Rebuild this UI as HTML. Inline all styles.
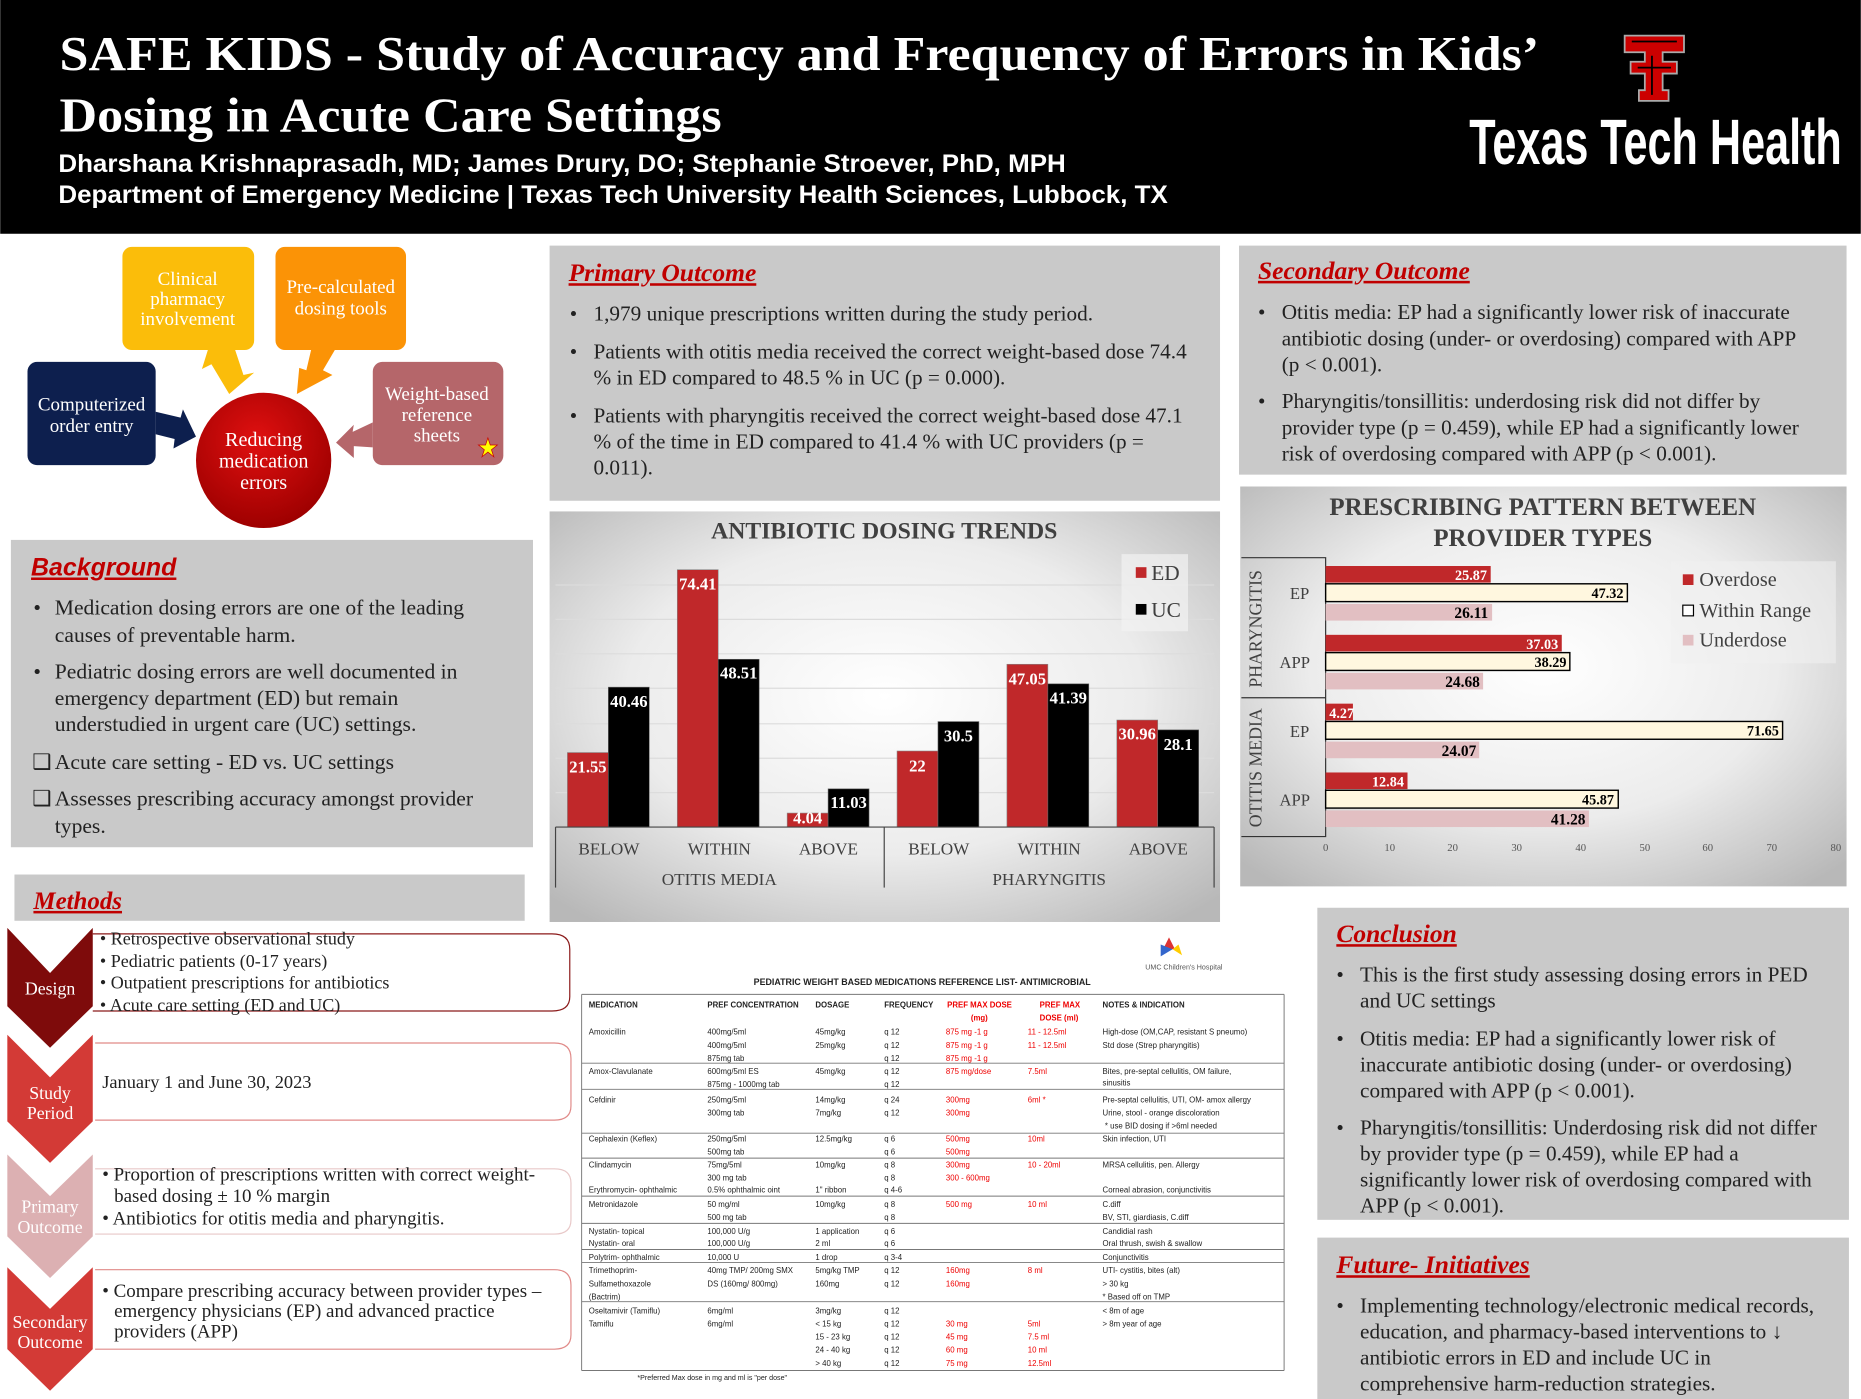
<!DOCTYPE html>
<html><head><meta charset="utf-8"><style>
html,body{margin:0;padding:0;background:#fff;}
svg{display:block;}
.s{font-family:"Liberation Serif",serif;}
.a{font-family:"Liberation Sans",sans-serif;}
</style></head><body>
<svg width="1861" height="1399" viewBox="0 0 1568 1179" xmlns="http://www.w3.org/2000/svg">
<defs>
<radialGradient id="g1" cx="50%" cy="45%" r="70%"><stop offset="0" stop-color="#ffffff"/><stop offset="0.55" stop-color="#ececec"/><stop offset="1" stop-color="#b8b8b8"/></radialGradient>
<radialGradient id="cir" cx="45%" cy="35%" r="65%"><stop offset="0" stop-color="#e01010"/><stop offset="1" stop-color="#9e0000"/></radialGradient>
</defs>
<rect width="1568" height="1179" fill="#fff"/>
<!-- header -->
<rect x="0" y="0" width="1568" height="197" fill="#000"/>
<text class="s" x="50" y="59" font-size="41" font-weight="bold" fill="#fff" textLength="1247" lengthAdjust="spacingAndGlyphs">SAFE KIDS - Study of Accuracy and Frequency of Errors in Kids’</text>
<text class="s" x="50" y="111" font-size="41" font-weight="bold" fill="#fff" textLength="558" lengthAdjust="spacingAndGlyphs">Dosing in Acute Care Settings</text>
<text class="a" x="49" y="145" font-size="21" font-weight="bold" fill="#fff" textLength="849" lengthAdjust="spacingAndGlyphs">Dharshana Krishnaprasadh, MD; James Drury, DO; Stephanie Stroever, PhD, MPH</text>
<text class="a" x="49" y="171" font-size="21" font-weight="bold" fill="#fff" textLength="935" lengthAdjust="spacingAndGlyphs">Department of Emergency Medicine | Texas Tech University Health Sciences, Lubbock, TX</text>
<!-- TT logo -->
<g>
<path d="M1369,30 H1419 V44 H1401 V52 H1413 V62 H1401 V76 H1406 V85 H1381 V76 H1386 V62 H1374 V52 H1386 V44 H1369 Z" fill="#c00" stroke="#aaa" stroke-width="1.5"/>
<path d="M1375,35 H1413 M1392,47 V80 M1380,57 H1408" stroke="#000" stroke-width="1.5" fill="none"/>
</g>
<text x="1238" y="138" font-family="'Liberation Sans Narrow','Liberation Sans',sans-serif" font-size="54" font-weight="bold" fill="#fff" textLength="314" lengthAdjust="spacingAndGlyphs">Texas Tech Health</text>

<!-- diagram -->
<polygon points="175,295 198,295 205,316 214,314 193,332 178,307 170,311" fill="#fbbd0a"/>
<polygon points="262,295 282,295 272,312 280,316 250,332 252,310 258,312" fill="#fb9306"/>
<polygon points="131,347 152,352 154,345 165,368 146,378 147,370 131,366" fill="#0d1f4e"/>
<polygon points="314,356 314,377 298,376 298,386 283,373 298,358 297,364" fill="#b5666a"/>
<rect x="103" y="208" width="111" height="87" rx="8" fill="#fbbd0a"/>
<rect x="232" y="208" width="110" height="87" rx="8" fill="#fb9306"/>
<rect x="23" y="305" width="108" height="87" rx="8" fill="#0d1f4e"/>
<rect x="314" y="305" width="110" height="87" rx="8" fill="#b5666a"/>
<circle cx="222" cy="388" r="57" fill="url(#cir)"/>
<g class="s" font-size="16" fill="#fff" text-anchor="middle">
<text x="158" y="240">Clinical</text><text x="158" y="257">pharmacy</text><text x="158" y="274">involvement</text>
<text x="287" y="247">Pre-calculated</text><text x="287" y="265">dosing tools</text>
<text x="77" y="346">Computerized</text><text x="77" y="364">order entry</text>
<text x="368" y="337">Weight-based</text><text x="368" y="355">reference</text><text x="368" y="372">sheets</text>
<text x="222" y="376" font-size="17">Reducing</text><text x="222" y="394" font-size="17">medication</text><text x="222" y="412" font-size="17">errors</text>
</g>
<polygon points="411,369 413,375 419,375 414,379 416,385 411,381 406,385 408,379 403,375 409,375" fill="#ff0" stroke="#c00" stroke-width="0.6"/>

<!-- Background -->
<rect x="9" y="455" width="440" height="259" fill="#c9c9c9"/>
<text class="a" x="26" y="485" font-size="21" font-weight="bold" font-style="italic" fill="#c00000" text-decoration="underline">Background</text>
<g class="s" font-size="18.2" fill="#222">
<text x="28" y="518">•</text><text x="46" y="518">Medication dosing errors are one of the leading</text><text x="46" y="541">causes of preventable harm.</text>
<text x="28" y="572">•</text><text x="46" y="572">Pediatric dosing errors are well documented in</text><text x="46" y="594">emergency department (ED) but remain</text><text x="46" y="616">understudied in urgent care (UC) settings.</text>
<text x="27" y="648">❑</text><text x="46" y="648">Acute care setting - ED vs. UC settings</text>
<text x="27" y="679">❑</text><text x="46" y="679">Assesses prescribing accuracy amongst provider</text><text x="46" y="702">types.</text>
</g>

<!-- Methods -->
<rect x="12" y="737" width="430" height="39" fill="#c9c9c9"/>
<text class="s" x="28" y="766" font-size="21" font-weight="bold" font-style="italic" fill="#c00000" text-decoration="underline">Methods</text>
<path d="M78,787 H465 Q480,787 480,800 V840 Q480,852 465,852 H78" fill="#fff" stroke="#8b1a1a" stroke-width="1"/>
<path d="M80,879 H467 Q481,879 481,892 V932 Q481,944 467,944 H80" fill="#fff" stroke="#e08a88" stroke-width="1"/>
<path d="M80,985 H467 Q481,985 481,997 V1028 Q481,1040 467,1040 H80" fill="#fff" stroke="#e8c8c8" stroke-width="1"/>
<path d="M80,1070 H467 Q481,1070 481,1083 V1125 Q481,1137 467,1137 H80" fill="#fff" stroke="#e08a88" stroke-width="1"/>
<polygon points="6,782 42,820 78,782 78,848 42,883 6,848" fill="#7e0b0b"/>
<polygon points="6,872 42,908 78,872 78,945 42,980 6,945" fill="#d33a36"/>
<polygon points="6,973 42,1008 78,973 78,1042 42,1077 6,1042" fill="#dcb0b2"/>
<polygon points="6,1068 42,1103 78,1068 78,1137 42,1172 6,1137" fill="#d33a36"/>
<g class="s" font-size="15" fill="#fff" text-anchor="middle">
<text x="42" y="838">Design</text>
<text x="42" y="926">Study</text><text x="42" y="943">Period</text>
<text x="42" y="1022">Primary</text><text x="42" y="1039">Outcome</text>
<text x="42" y="1119">Secondary</text><text x="42" y="1136">Outcome</text>
</g>
<g class="s" font-size="15.2" fill="#222">
<text x="84" y="796">• Retrospective observational study</text>
<text x="84" y="815">• Pediatric patients (0-17 years)</text>
<text x="84" y="833">• Outpatient prescriptions for antibiotics</text>
<text x="84" y="852">• Acute care setting (ED and UC)</text>
<text x="86" y="917" font-size="15.5">January 1 and June 30, 2023</text>
<text x="86" y="995" font-size="16">• Proportion of prescriptions written with correct weight-</text>
<text x="96" y="1013" font-size="16">based dosing ± 10 % margin</text>
<text x="86" y="1032" font-size="16">• Antibiotics for otitis media and pharyngitis.</text>
<text x="86" y="1093" font-size="16">• Compare prescribing accuracy between provider types –</text>
<text x="96" y="1110" font-size="16">emergency physicians (EP) and advanced practice</text>
<text x="96" y="1127" font-size="16">providers (APP)</text>
</g>

<!-- Primary outcome -->
<rect x="463" y="207" width="565" height="215" fill="#c9c9c9"/>
<text class="s" x="479" y="237" font-size="21.5" font-weight="bold" font-style="italic" fill="#c00000" text-decoration="underline">Primary Outcome</text>
<g class="s" font-size="17.9" fill="#222">
<text x="480" y="270">•</text><text x="500" y="270">1,979 unique prescriptions written during the study period.</text>
<text x="480" y="302">•</text><text x="500" y="302">Patients with otitis media received the correct weight-based dose 74.4</text><text x="500" y="324">% in ED compared to 48.5 % in UC (p = 0.000).</text>
<text x="480" y="356">•</text><text x="500" y="356">Patients with pharyngitis received the correct weight-based dose 47.1</text><text x="500" y="378">% of the time in ED compared to 41.4 % with UC providers (p =</text><text x="500" y="400">0.011).</text>
</g>

<!-- Chart 1 -->
<rect x="463" y="431" width="565" height="346" fill="url(#g1)"/>
<g stroke="#dcdcdc" stroke-width="1">
<line x1="468" y1="668" x2="1023" y2="668"/><line x1="468" y1="639" x2="1023" y2="639"/><line x1="468" y1="610" x2="1023" y2="610"/><line x1="468" y1="580" x2="1023" y2="580"/><line x1="468" y1="551" x2="1023" y2="551"/><line x1="468" y1="522" x2="1023" y2="522"/><line x1="468" y1="493" x2="1023" y2="493"/>
</g>
<text class="s" x="745" y="454" font-size="20" font-weight="bold" fill="#404040" text-anchor="middle">ANTIBIOTIC DOSING TRENDS</text>
<g fill="#c0282a" stroke="#888" stroke-width="0.5">
<rect x="478" y="634.2" width="34.5" height="62.8"/><rect x="570.6" y="480.1" width="34.5" height="216.9"/><rect x="663.2" y="685.2" width="34.5" height="11.8"/><rect x="755.8" y="632.9" width="34.5" height="64.1"/><rect x="848.4" y="559.8" width="34.5" height="137.2"/><rect x="941" y="606.8" width="34.5" height="90.2"/>
</g>
<g fill="#000" stroke="#666" stroke-width="0.5">
<rect x="512.5" y="579.1" width="34.5" height="117.9"/><rect x="605.1" y="555.6" width="34.5" height="141.4"/><rect x="697.7" y="664.8" width="34.5" height="32.2"/><rect x="790.3" y="608.1" width="34.5" height="88.9"/><rect x="882.9" y="576.3" width="34.5" height="120.7"/><rect x="975.5" y="615.1" width="34.5" height="81.9"/>
</g>
<g class="s" font-size="14" font-weight="bold" fill="#fff" text-anchor="middle">
<text x="495.3" y="651">21.55</text><text x="529.8" y="596">40.46</text>
<text x="587.9" y="497">74.41</text><text x="622.4" y="572">48.51</text>
<text x="680.5" y="694">4.04</text><text x="715" y="681">11.03</text>
<text x="773" y="650">22</text><text x="807.5" y="625">30.5</text>
<text x="865.6" y="577">47.05</text><text x="900.1" y="593">41.39</text>
<text x="958.2" y="623">30.96</text><text x="992.7" y="632">28.1</text>
</g>
<g stroke="#444" stroke-width="1" fill="none">
<line x1="468" y1="697" x2="1023" y2="697"/><line x1="468" y1="697" x2="468" y2="748"/><line x1="745" y1="697" x2="745" y2="748"/><line x1="1023" y1="697" x2="1023" y2="748"/>
</g>
<g class="s" font-size="14.5" fill="#404040" text-anchor="middle">
<text x="513" y="720">BELOW</text><text x="606" y="720">WITHIN</text><text x="698" y="720">ABOVE</text>
<text x="791" y="720">BELOW</text><text x="884" y="720">WITHIN</text><text x="976" y="720">ABOVE</text>
<text x="606" y="746">OTITIS MEDIA</text><text x="884" y="746">PHARYNGITIS</text>
</g>
<rect x="945" y="467" width="56" height="65" fill="#f2f2f2" opacity="0.7"/>
<rect x="957" y="478" width="9" height="9" fill="#c0282a"/><rect x="957" y="509" width="9" height="9" fill="#000"/>
<text class="s" x="970" y="489" font-size="18" fill="#404040">ED</text><text class="s" x="970" y="520" font-size="18" fill="#404040">UC</text>

<!-- Secondary outcome -->
<rect x="1044" y="207" width="512" height="193" fill="#c9c9c9"/>
<text class="s" x="1060" y="235" font-size="21.5" font-weight="bold" font-style="italic" fill="#c00000" text-decoration="underline">Secondary Outcome</text>
<g class="s" font-size="17.9" fill="#222">
<text x="1060" y="269">•</text><text x="1080" y="269">Otitis media: EP had a significantly lower risk of inaccurate</text><text x="1080" y="291">antibiotic dosing (under- or overdosing) compared with APP</text><text x="1080" y="313">(p &lt; 0.001).</text>
<text x="1060" y="344">•</text><text x="1080" y="344">Pharyngitis/tonsillitis: underdosing risk did not differ by</text><text x="1080" y="366">provider type (p = 0.459), while EP had a significantly lower</text><text x="1080" y="388">risk of overdosing compared with APP (p &lt; 0.001).</text>
</g>

<!-- Chart 2 -->
<rect x="1045" y="410" width="511" height="337" fill="url(#g1)"/>
<g class="s" font-size="21" font-weight="bold" fill="#404040" text-anchor="middle">
<text x="1300" y="434">PRESCRIBING PATTERN BETWEEN</text><text x="1300" y="460">PROVIDER TYPES</text>
</g>
<g stroke="#333" stroke-width="1" fill="none">
<polyline points="1046,470 1117,470 1117,705 1046,705"/><line x1="1046" y1="588" x2="1117" y2="588"/>
</g>
<text class="s" font-size="15" fill="#404040" text-anchor="middle" transform="translate(1063,530) rotate(-90)">PHARYNGITIS</text>
<text class="s" font-size="15" fill="#404040" text-anchor="middle" transform="translate(1063,647) rotate(-90)">OTITIS MEDIA</text>
<g class="s" font-size="14" fill="#404040" text-anchor="middle">
<text x="1095" y="505">EP</text><text x="1091" y="563">APP</text><text x="1095" y="621">EP</text><text x="1091" y="679">APP</text>
</g>
<g fill="#c0282a">
<rect x="1117" y="477" width="139.1" height="14"/><rect x="1117" y="535" width="199" height="14"/><rect x="1117" y="593" width="23" height="14"/><rect x="1117" y="651" width="69" height="14"/>
</g>
<g fill="#fff7df" stroke="#000" stroke-width="1.2">
<rect x="1117" y="492" width="254.3" height="15"/><rect x="1117" y="550" width="205.8" height="15"/><rect x="1117" y="608" width="385.1" height="15"/><rect x="1117" y="666" width="246.6" height="15"/>
</g>
<g fill="#e2bfc2">
<rect x="1117" y="509" width="140.3" height="14"/><rect x="1117" y="567" width="132.7" height="14"/><rect x="1117" y="625" width="129.4" height="14"/><rect x="1117" y="683" width="221.9" height="14"/>
</g>
<g class="s" font-size="12" font-weight="bold" text-anchor="end">
<text x="1253" y="489" fill="#fff">25.87</text><text x="1368" y="504">47.32</text><text x="1254" y="521" font-size="13">26.11</text>
<text x="1313" y="547" fill="#fff">37.03</text><text x="1320" y="562">38.29</text><text x="1247" y="579" font-size="13">24.68</text>
<text x="1141" y="605" fill="#fff">4.27</text><text x="1499" y="620">71.65</text><text x="1244" y="637" font-size="13">24.07</text>
<text x="1183" y="663" fill="#fff">12.84</text><text x="1360" y="678">45.87</text><text x="1336" y="695" font-size="13">41.28</text>
</g>
<g class="s" font-size="9" fill="#555" text-anchor="middle">
<text x="1117" y="717">0</text><text x="1171" y="717">10</text><text x="1224" y="717">20</text><text x="1278" y="717">30</text><text x="1332" y="717">40</text><text x="1386" y="717">50</text><text x="1439" y="717">60</text><text x="1493" y="717">70</text><text x="1547" y="717">80</text>
</g>
<rect x="1408" y="473" width="139" height="86" fill="#f0f0f0" opacity="0.6"/>
<rect x="1418" y="484" width="9" height="9" fill="#c0282a"/><rect x="1418" y="510" width="9" height="9" fill="#fff" stroke="#000"/><rect x="1418" y="535" width="9" height="9" fill="#e2bfc2"/>
<g class="s" font-size="17" fill="#404040"><text x="1432" y="494">Overdose</text><text x="1432" y="520">Within Range</text><text x="1432" y="545">Underdose</text></g>

<!-- Table -->
<g class="a" font-size="6.6" fill="#222">
<text x="777" y="830" font-size="7.5" font-weight="bold" text-anchor="middle">PEDIATRIC WEIGHT BASED MEDICATIONS REFERENCE LIST- ANTIMICROBIAL</text>
<text x="965" y="817" font-size="6" fill="#555">UMC Children's Hospital</text>
<polygon points="985,790 990,800 980,800" fill="#d33"/><polygon points="978,796 988,800 978,806" fill="#36c"/><polygon points="993,796 988,800 996,805" fill="#fc0"/>
<g stroke="#777" stroke-width="0.8">
<line x1="490" y1="838" x2="1082" y2="838"/><line x1="490" y1="838" x2="490" y2="1155"/><line x1="1082" y1="838" x2="1082" y2="1155"/><line x1="490" y1="1155" x2="1082" y2="1155"/>
<line x1="490" y1="896" x2="1082" y2="896"/><line x1="490" y1="918" x2="1082" y2="918"/><line x1="490" y1="955" x2="1082" y2="955"/><line x1="490" y1="976" x2="1082" y2="976"/><line x1="490" y1="1008" x2="1082" y2="1008"/><line x1="490" y1="1031" x2="1082" y2="1031"/><line x1="490" y1="1053" x2="1082" y2="1053"/><line x1="490" y1="1064" x2="1082" y2="1064"/><line x1="490" y1="1097" x2="1082" y2="1097"/>
</g>
<g font-weight="bold"><text x="496" y="849">MEDICATION</text><text x="596" y="849">PREF CONCENTRATION</text><text x="687" y="849">DOSAGE</text><text x="745" y="849">FREQUENCY</text><text x="929" y="849">NOTES &amp; INDICATION</text>
<text x="798" y="849" fill="#e00">PREF MAX DOSE</text><text x="818" y="860" fill="#e00">(mg)</text><text x="876" y="849" fill="#e00">PREF MAX</text><text x="876" y="860" fill="#e00">DOSE (ml)</text></g>
<text x="496" y="872">Amoxicillin</text><text x="596" y="872">400mg/5ml</text><text x="687" y="872">45mg/kg</text><text x="745" y="872">q 12</text><text x="797" y="872" fill="#e00">875 mg -1 g</text><text x="866" y="872" fill="#e00">11 - 12.5ml</text><text x="929" y="872">High-dose (OM,CAP, resistant S pneumo)</text>
<text x="596" y="883">400mg/5ml</text><text x="687" y="883">25mg/kg</text><text x="745" y="883">q 12</text><text x="797" y="883" fill="#e00">875 mg -1 g</text><text x="866" y="883" fill="#e00">11 - 12.5ml</text><text x="929" y="883">Std dose (Strep pharyngitis)</text>
<text x="596" y="894">875mg tab</text><text x="745" y="894">q 12</text><text x="797" y="894" fill="#e00">875 mg -1 g</text>
<text x="496" y="905">Amox-Clavulanate</text><text x="596" y="905">600mg/5ml ES</text><text x="687" y="905">45mg/kg</text><text x="745" y="905">q 12</text><text x="797" y="905" fill="#e00">875 mg/dose</text><text x="866" y="905" fill="#e00">7.5ml</text><text x="929" y="905">Bites, pre-septal cellulitis, OM failure,</text>
<text x="596" y="916">875mg - 1000mg tab</text><text x="745" y="916">q 12</text><text x="929" y="915">sinusitis</text>
<text x="496" y="929">Cefdinir</text><text x="596" y="929">250mg/5ml</text><text x="687" y="929">14mg/kg</text><text x="745" y="929">q 24</text><text x="797" y="929" fill="#e00">300mg</text><text x="866" y="929" fill="#e00">6ml *</text><text x="929" y="929">Pre-septal cellulitis, UTI, OM- amox allergy</text>
<text x="596" y="940">300mg tab</text><text x="687" y="940">7mg/kg</text><text x="745" y="940">q 12</text><text x="797" y="940" fill="#e00">300mg</text><text x="929" y="940">Urine, stool - orange discoloration</text>
<text x="931" y="951">* use BID dosing if &gt;6ml needed</text>
<text x="496" y="962">Cephalexin (Keflex)</text><text x="596" y="962">250mg/5ml</text><text x="687" y="962">12.5mg/kg</text><text x="745" y="962">q 6</text><text x="797" y="962" fill="#e00">500mg</text><text x="866" y="962" fill="#e00">10ml</text><text x="929" y="962">Skin infection, UTI</text>
<text x="596" y="973">500mg tab</text><text x="745" y="973">q 6</text><text x="797" y="973" fill="#e00">500mg</text>
<text x="496" y="984">Clindamycin</text><text x="596" y="984">75mg/5ml</text><text x="687" y="984">10mg/kg</text><text x="745" y="984">q 8</text><text x="797" y="984" fill="#e00">300mg</text><text x="866" y="984" fill="#e00">10 - 20ml</text><text x="929" y="984">MRSA cellulitis, pen. Allergy</text>
<text x="596" y="995">300 mg tab</text><text x="745" y="995">q 8</text><text x="797" y="995" fill="#e00">300 - 600mg</text>
<text x="496" y="1005">Erythromycin- ophthalmic</text><text x="596" y="1005">0.5% ophthalmic oint</text><text x="687" y="1005">1" ribbon</text><text x="745" y="1005">q 4-6</text><text x="929" y="1005">Corneal abrasion, conjunctivitis</text>
<text x="496" y="1017">Metronidazole</text><text x="596" y="1017">50 mg/ml</text><text x="687" y="1017">10mg/kg</text><text x="745" y="1017">q 8</text><text x="797" y="1017" fill="#e00">500 mg</text><text x="866" y="1017" fill="#e00">10 ml</text><text x="929" y="1017">C.diff</text>
<text x="596" y="1028">500 mg tab</text><text x="745" y="1028">q 8</text><text x="929" y="1028">BV, STI, giardiasis, C.diff</text>
<text x="496" y="1040">Nystatin- topical</text><text x="596" y="1040">100,000 U/g</text><text x="687" y="1040">1 application</text><text x="745" y="1040">q 6</text><text x="929" y="1040">Candidial rash</text>
<text x="496" y="1050">Nystatin- oral</text><text x="596" y="1050">100,000 U/g</text><text x="687" y="1050">2 ml</text><text x="745" y="1050">q 6</text><text x="929" y="1050">Oral thrush, swish &amp; swallow</text>
<text x="496" y="1062">Polytrim- ophthalmic</text><text x="596" y="1062">10,000 U</text><text x="687" y="1062">1 drop</text><text x="745" y="1062">q 3-4</text><text x="929" y="1062">Conjunctivitis</text>
<text x="496" y="1073">Trimethoprim-</text><text x="596" y="1073">40mg TMP/ 200mg SMX</text><text x="687" y="1073">5mg/kg TMP</text><text x="745" y="1073">q 12</text><text x="797" y="1073" fill="#e00">160mg</text><text x="866" y="1073" fill="#e00">8 ml</text><text x="929" y="1073">UTI- cystitis, bites (alt)</text>
<text x="496" y="1084">Sulfamethoxazole</text><text x="596" y="1084">DS (160mg/ 800mg)</text><text x="687" y="1084">160mg</text><text x="745" y="1084">q 12</text><text x="797" y="1084" fill="#e00">160mg</text><text x="929" y="1084">&gt; 30 kg</text>
<text x="496" y="1095">(Bactrim)</text><text x="929" y="1095">* Based off on TMP</text>
<text x="496" y="1107">Oseltamivir (Tamiflu)</text><text x="596" y="1107">6mg/ml</text><text x="687" y="1107">3mg/kg</text><text x="745" y="1107">q 12</text><text x="929" y="1107">&lt; 8m of age</text>
<text x="496" y="1118">Tamiflu</text><text x="596" y="1118">6mg/ml</text><text x="687" y="1118">&lt; 15 kg</text><text x="745" y="1118">q 12</text><text x="797" y="1118" fill="#e00">30 mg</text><text x="866" y="1118" fill="#e00">5ml</text><text x="929" y="1118">&gt; 8m year of age</text>
<text x="687" y="1129">15 - 23 kg</text><text x="745" y="1129">q 12</text><text x="797" y="1129" fill="#e00">45 mg</text><text x="866" y="1129" fill="#e00">7.5 ml</text>
<text x="687" y="1140">24 - 40 kg</text><text x="745" y="1140">q 12</text><text x="797" y="1140" fill="#e00">60 mg</text><text x="866" y="1140" fill="#e00">10 ml</text>
<text x="687" y="1151">&gt; 40 kg</text><text x="745" y="1151">q 12</text><text x="797" y="1151" fill="#e00">75 mg</text><text x="866" y="1151" fill="#e00">12.5ml</text>
<text x="537" y="1163" font-size="6">*Preferred Max dose in mg and ml is "per dose"</text>
</g>

<!-- Conclusion -->
<rect x="1110" y="765" width="448" height="263" fill="#c9c9c9"/>
<text class="s" x="1126" y="794" font-size="21.5" font-weight="bold" font-style="italic" fill="#c00000" text-decoration="underline">Conclusion</text>
<g class="s" font-size="17.9" fill="#222">
<text x="1126" y="827">•</text><text x="1146" y="827">This is the first study assessing dosing errors in PED</text><text x="1146" y="849">and UC settings</text>
<text x="1126" y="881">•</text><text x="1146" y="881">Otitis media: EP had a significantly lower risk of</text><text x="1146" y="903">inaccurate antibiotic dosing (under- or overdosing)</text><text x="1146" y="925">compared with APP (p &lt; 0.001).</text>
<text x="1126" y="956">•</text><text x="1146" y="956">Pharyngitis/tonsillitis: Underdosing risk did not differ</text><text x="1146" y="978">by provider type (p = 0.459), while EP had a</text><text x="1146" y="1000">significantly lower risk of overdosing compared with</text><text x="1146" y="1022">APP (p &lt; 0.001).</text>
</g>
<!-- Future -->
<rect x="1110" y="1043" width="448" height="136" fill="#c9c9c9"/>
<text class="s" x="1126" y="1073" font-size="21.5" font-weight="bold" font-style="italic" fill="#c00000" text-decoration="underline">Future- Initiatives</text>
<g class="s" font-size="17.9" fill="#222">
<text x="1126" y="1106">•</text><text x="1146" y="1106">Implementing technology/electronic medical records,</text><text x="1146" y="1128">education, and pharmacy-based interventions to ↓</text><text x="1146" y="1150">antibiotic errors in ED and include UC in</text><text x="1146" y="1172">comprehensive harm-reduction strategies.</text>
</g>
</svg>
</body></html>
